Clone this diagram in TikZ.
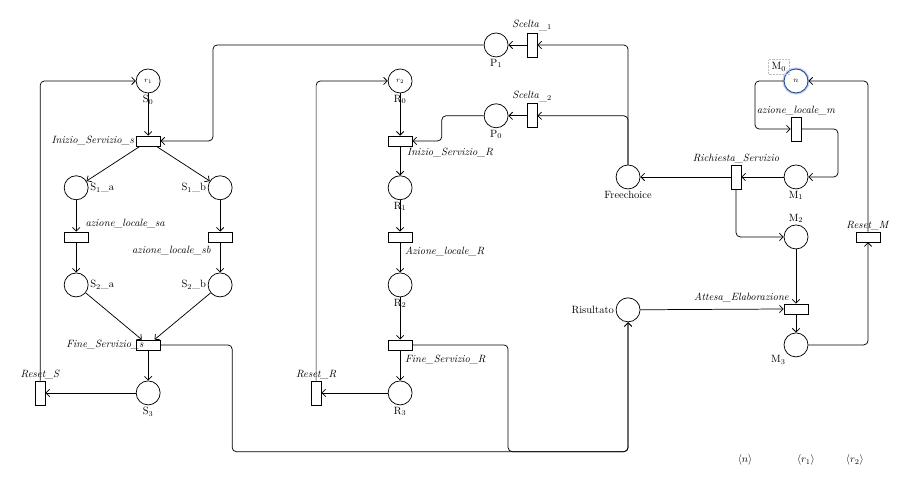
\documentclass[tikz,border=0pt]{standalone}
\usetikzlibrary{arrows.meta,shadows}

\begin{document}
\begin{tikzpicture}[
    place/.style={circle,draw=black,fill=white,minimum size=8mm,inner sep=0pt,line width=0.7pt,font=\scriptsize},
    marked_place/.style={place,draw={rgb,255:red,35;green,85;blue,150},line width=0.9pt,preaction={draw=blue!20,line width=3.2pt}},
    h_trans/.style={rectangle,draw=black,fill=white,minimum width=8mm,minimum height=3.3mm,inner sep=0pt,line width=0.7pt,drop shadow={opacity=0.15,shadow xshift=0.6pt,shadow yshift=-0.6pt}},
    v_trans/.style={h_trans,minimum width=3.3mm,minimum height=8mm},
    flow_arc/.style={black,line width=0.7pt,-{Straight Barb[length=3.5pt,width=7pt]},rounded corners=4pt},
    token_count/.style={text=black,font=\normalsize},
    every label/.style={font=\normalsize,inner sep=1.5pt}]
  \useasboundingbox (-15.07,-8.33) rectangle (15.07,8.33);
\node[place,label=below:S$_0$] (0) at (-10.13,5.63) {$r_1$};
\node[h_trans,label=left:\textit{Inizio\_Servizio\_s}] (1) at (-10.13,3.63) {};
\node[place,label=right:S$_1$\_a] (2) at (-12.53,2.07) {};
\node[place,label=left:S$_1$\_b] (3) at (-7.73,2.07) {};
\node[h_trans,label={[label distance=3pt]above right:\textit{azione\_locale\_sa}}] (4) at (-12.53,0.43) {};
\node[h_trans,label={[label distance=3pt]below left:\textit{azione\_locale\_sb}}] (5) at (-7.73,0.43) {};
\node[place,label=right:S$_2$\_a] (6) at (-12.53,-1.17) {};
\node[place,label=left:S$_2$\_b] (7) at (-7.73,-1.17) {};
\node[h_trans,label={[label distance=-9pt]left:\textit{Fine\_Servizio\_s}}] (8) at (-10.13,-3.17) {};
\node[place,label=below:S$_3$] (9) at (-10.13,-4.77) {};
\node[v_trans,label=above:\textit{Reset\_S}] (10) at (-13.73,-4.77) {};
\node[place,label=below:R$_0$] (11) at (-1.73,5.63) {$r_2$};
\node[h_trans,label=below right:\textit{Inizio\_Servizio\_R}] (12) at (-1.73,3.63) {};
\node[place,label=below:R$_1$] (13) at (-1.73,2.07) {};
\node[h_trans,label={[anchor=north west,xshift=3pt,yshift=-3pt]south:\textit{Azione\_locale\_R}}] (14) at (-1.73,0.43) {};
\node[place,label=below:R$_2$] (15) at (-1.73,-1.17) {};
\node[h_trans,label={[anchor=north west,xshift=3pt,yshift=-3pt]south:\textit{Fine\_Servizio\_R}}] (16) at (-1.73,-3.17) {};
\node[place,label=below:R$_3$] (17) at (-1.73,-4.77) {};
\node[v_trans,label=above:\textit{Reset\_R}] (18) at (-4.53,-4.77) {};
\node[place,label=below:P$_1$] (19) at (1.47,6.83) {};
\node[v_trans,label=above:\textit{Scelta}$_{\_1}$] (20) at (2.67,6.83) {};
\node[place,label=below:P$_0$] (21) at (1.47,4.47) {};
\node[v_trans,label=above:\textit{Scelta}$_{\_2}$] (22) at (2.67,4.47) {};
\node[place,label=below:Freechoice] (23) at (5.87,2.43) {};
\node[v_trans,label=above:\textit{Richiesta\_Servizio}] (24) at (9.47,2.43) {};
\node[marked_place,label={[draw=gray!50,densely dotted,inner sep=3pt,label distance=-3pt]above left:M$_0$}] (25) at (11.47,5.63) {$n$};
\node[v_trans,label=above:\textit{azione\_locale\_m}] (26) at (11.47,4.03) {};
\node[place,label=below:M$_1$] (27) at (11.47,2.43) {};
\node[place,label=above:M$_2$] (28) at (11.47,0.43) {};
\node[h_trans,label=above left:\textit{Attesa\_Elaborazione}] (29) at (11.47,-1.97) {};
\node[place,label=below left:M$_3$] (30) at (11.47,-3.17) {};
\node[h_trans,label=above:\textit{Reset\_M}] (31) at (13.87,0.43) {};
\node[place,label=left:Risultato] (32) at (5.87,-2.00) {};
\node[token_count] (33) at (9.77,-7.00) {$\langle n\rangle$};
\node[token_count] (34) at (11.80,-7.00) {$\langle r_1\rangle$};
\node[token_count] (35) at (13.43,-7.00) {$\langle r_2\rangle$};
\draw[flow_arc] (0) -- (1);
\draw[flow_arc] (1) -- (2);
\draw[flow_arc] (1) -- (3);
\draw[flow_arc] (2) -- (4);
\draw[flow_arc] (3) -- (5);
\draw[flow_arc] (4) -- (6);
\draw[flow_arc] (5) -- (7);
\draw[flow_arc] (6) -- (8);
\draw[flow_arc] (7) -- (8);
\draw[flow_arc] (8) -- (9);
\draw[flow_arc] (9) -- (10);
\draw[flow_arc] (10) |- (0);
\draw[flow_arc] (19) -| (-7.97,3.63) -- (1);
\draw[flow_arc] (8) -| (-7.33,-6.73) -| (32);
\draw[flow_arc] (11) -- (12);
\draw[flow_arc] (12) -- (13);
\draw[flow_arc] (13) -- (14);
\draw[flow_arc] (14) -- (15);
\draw[flow_arc] (15) -- (16);
\draw[flow_arc] (16) -- (17);
\draw[flow_arc] (17) -- (18);
\draw[flow_arc] (18) |- (11);
\draw[flow_arc] (21) -| (-0.34,3.63) -- (12);
\draw[flow_arc] (16) -| (1.87,-6.73) -| (32);
\draw[flow_arc] (20) -- (19);
\draw[flow_arc] (22) -- (21);
\draw[flow_arc] (23) |- (20);
\draw[flow_arc] (23) |- (22);
\draw[flow_arc] (24) -- (23);
\draw[flow_arc] (27) -- (24);
\draw[flow_arc] (24) |- (28);
\draw[flow_arc] (25) -| (10.10,4.03) -- (26);
\draw[flow_arc] (26) -| (12.87,2.43) -- (27);
\draw[flow_arc] (28) -- (29);
\draw[flow_arc] (32) -- (29);
\draw[flow_arc] (29) -- (30);
\draw[flow_arc] (30) -| (31);
\draw[flow_arc] (31) |- (25);
\end{tikzpicture}
\end{document}
